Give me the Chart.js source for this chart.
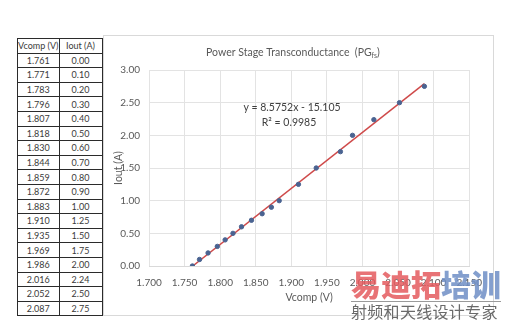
<!DOCTYPE html>
<html><head><meta charset="utf-8">
<script src="https://cdn.jsdelivr.net/npm/chart.js@4/dist/chart.umd.min.js"></script>
<style>
html,body{margin:0;padding:0;background:#fff;width:505px;height:323px;overflow:hidden;position:relative;font-family:Lato,sans-serif;}
#tbl{position:absolute;left:17px;top:38px;border-collapse:collapse;font-size:9px;color:#3a3a3a;table-layout:fixed;}
#tbl td{border:1px solid #2b2b2b;height:13.6px;padding:0;text-align:center;line-height:13px;white-space:nowrap;overflow:hidden;}
#tbl td.a{width:39px}
#tbl td.b{width:42px}
#box{position:absolute;left:103px;top:35px;width:389px;height:279px;border:1px solid #d9d9d9;}
#wm{position:absolute;left:351px;top:266px;width:154px;}
#wm .big{font-family:"Noto Sans CJK SC";font-weight:900;font-size:30px;line-height:34px;opacity:0.85;white-space:nowrap;}
#wm .r{color:#e45b5e}
#wm .bl{color:#6f8fc6}
#wm .ln{height:1px;background:#9a9a9a;margin-top:1px;width:150px;}
#wm .sm{font-family:"Noto Sans CJK SC";font-size:16px;line-height:18px;color:#6a6a6a;white-space:nowrap;letter-spacing:0.3px;}
</style></head>
<body>
<table id="tbl"></table>
<div id="box"><canvas id="c"></canvas></div>
<div id="wm"><div class="big"><span class="r">易迪拓</span><span class="bl">培训</span></div><div class="ln"></div><div class="sm">射频和天线设计专家</div></div>
<script>
const vcomp = [1.761,1.771,1.783,1.796,1.807,1.818,1.830,1.844,1.859,1.872,1.883,1.910,1.935,1.969,1.986,2.016,2.052,2.087];
const iout  = [0.00,0.10,0.20,0.30,0.40,0.50,0.60,0.70,0.80,0.90,1.00,1.25,1.50,1.75,2.00,2.24,2.50,2.75];
const trendX = [1.761, 2.087];
const trendY = [-0.004, 2.791];
const xTicks = [1.700,1.750,1.800,1.850,1.900,1.950,2.000,2.050,2.100,2.150];
const yTicks = [0.00,0.50,1.00,1.50,2.00,2.50,3.00];
const tableHeader = ["Vcomp (V)","Iout (A)"];
const chartTitle = "Power Stage Transconductance  (PG";
const chartTitleSub = "fs";
const equationText = "y = 8.5752x - 15.105";
const r2Text = "R² = 0.9985";

// table
const tbl = document.getElementById('tbl');
let h = '<tr><td class="a">'+tableHeader[0]+'</td><td class="b">'+tableHeader[1]+'</td></tr>';
for (let i=0;i<vcomp.length;i++) h += '<tr><td class="a">'+vcomp[i].toFixed(3)+'</td><td class="b">'+iout[i].toFixed(2)+'</td></tr>';
tbl.innerHTML = h;

const FONT = 'Lato,sans-serif';
const textPlugin = {
  id:'texts',
  afterDraw(chart){
    const ctx = chart.ctx;
    ctx.save();
    ctx.fillStyle = '#595959';
    ctx.font = '10.5px '+FONT;
    ctx.textBaseline = 'middle';
    const w1 = ctx.measureText(chartTitle).width;
    ctx.font = '7px '+FONT;
    const w2 = ctx.measureText(chartTitleSub).width;
    ctx.font = '10.5px '+FONT;
    const w3 = ctx.measureText(')').width;
    let x0 = 189 - (w1+w2+w3)/2;
    ctx.textAlign='left';
    ctx.fillText(chartTitle, x0, 17);
    ctx.font = '7px '+FONT;
    ctx.fillText(chartTitleSub, x0+w1, 20);
    ctx.font = '10.5px '+FONT;
    ctx.fillText(')', x0+w1+w2, 17);
    ctx.fillStyle = '#404040';
    ctx.font = '10.5px '+FONT;
    ctx.textAlign='center';
    ctx.fillText(equationText, 188, 72);
    ctx.fillText(r2Text, 185, 87);
    ctx.restore();
  }
};

new Chart(document.getElementById('c'), {
  type:'scatter',
  data:{datasets:[
    {label:'trend', type:'line', data:trendX.map((x,i)=>({x:x,y:trendY[i]})), borderColor:'#cf4a4a', borderWidth:1.5, pointRadius:0, fill:false, order:2},
    {label:'Iout', data:vcomp.map((x,i)=>({x:x,y:iout[i]})), backgroundColor:'#4a6391', borderColor:'#4a6391', pointRadius:2.2, order:1}
  ]},
  options:{
    responsive:true, maintainAspectRatio:false, animation:false,
    layout:{padding:{top:34,right:9,left:0,bottom:0}},
    plugins:{legend:{display:false}, tooltip:{enabled:false}},
    scales:{
      x:{type:'linear', min:1.7, max:2.15,
        afterBuildTicks(s){ s.ticks = xTicks.map(v=>({value:v})); },
        afterFit(s){ s.height = 49; },
        grid:{color:'#e3e3e3', drawTicks:false},
        border:{color:'#d9d9d9'},
        ticks:{padding:11, color:'#595959', font:{family:FONT,size:10}, callback:v=>v.toFixed(3)},
        title:{display:true, text:'Vcomp (V)', color:'#595959', font:{family:FONT,size:10.5}, padding:{top:0,bottom:11}}
      },
      y:{min:0, max:3,
        afterBuildTicks(s){ s.ticks = yTicks.map(v=>({value:v})); },
        afterFit(s){ s.width = 45; },
        grid:{color:'#e3e3e3', drawTicks:false},
        border:{display:false},
        ticks:{padding:9, color:'#595959', font:{family:FONT,size:10}, callback:v=>v.toFixed(2)},
        title:{display:true, text:'Iout (A)', color:'#595959', font:{family:FONT,size:10.5}, padding:{top:8,bottom:0}}
      }
    }
  },
  plugins:[textPlugin]
});
</script>
</body></html>
